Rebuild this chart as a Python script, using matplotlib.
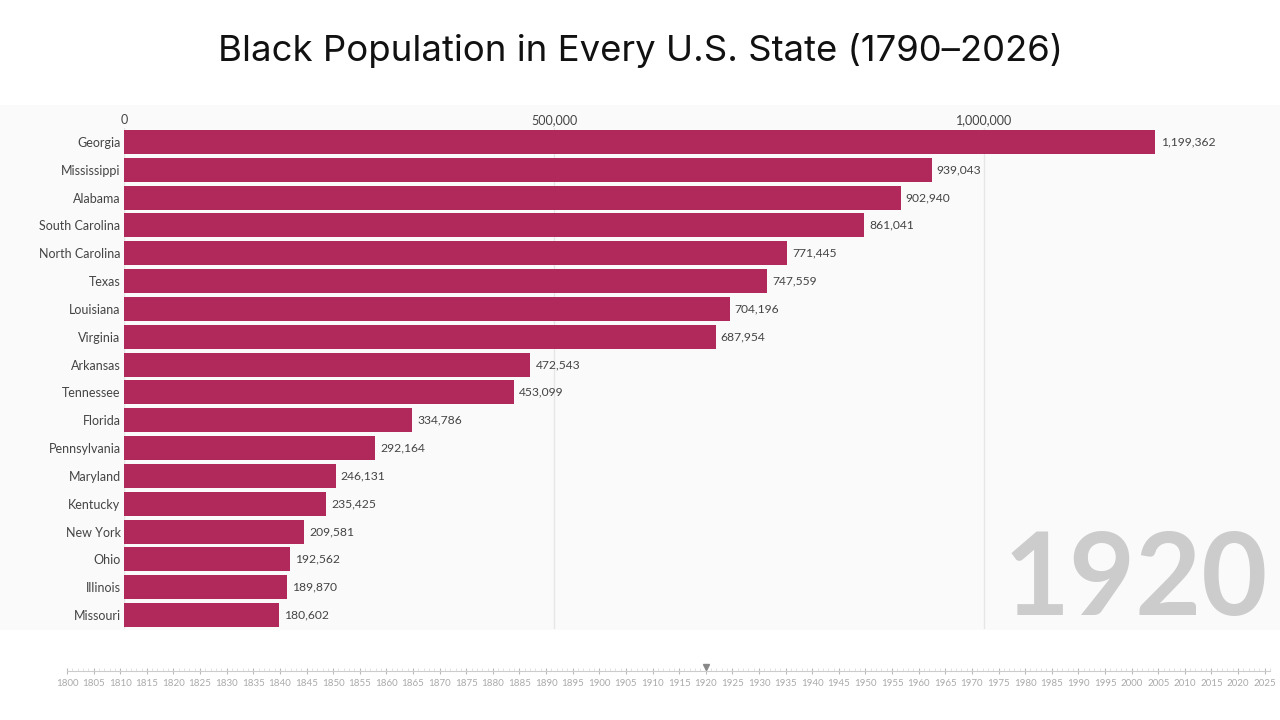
import matplotlib.pyplot as plt
from matplotlib.patches import Rectangle

# data (snapshot for 1920)
states = ['Georgia', 'Mississippi', 'Alabama', 'South Carolina', 'North Carolina',
          'Texas', 'Louisiana', 'Virginia', 'Arkansas', 'Tennessee', 'Florida',
          'Pennsylvania', 'Maryland', 'Kentucky', 'New York', 'Ohio', 'Illinois',
          'Missouri']
population = [1199362, 939043, 902940, 861041, 771445, 747559, 704196, 687954,
              472543, 453099, 334786, 292164, 246131, 235425, 209581, 192562,
              189870, 180602]
current_year = 1920
timeline_years = list(range(1800, 2026, 5))

bar_color = '#b0295a'
text_color = '#444444'

fig = plt.figure(figsize=(12.8, 7.2), dpi=100)
fig.patch.set_facecolor('white')

# light panel behind the race
fig.patches.append(Rectangle((0, 90 / 720), 1, 525 / 720, transform=fig.transFigure,
                             facecolor='#fafafa', edgecolor='none', zorder=-5))

fig.text(0.5, 1 - 50 / 720, 'Black Population in Every U.S. State (1790\u20132026)',
         ha='center', va='center', fontsize=26.3, family='Inter', color='#111111')

# main bar chart
ax = fig.add_axes([124 / 1280, 1 - 629 / 720, (1270 - 124) / 1280, 501 / 720])
ax.set_facecolor('none')
ax.set_zorder(2)
ypos = list(range(len(states)))
ax.barh(ypos, population, height=0.86, color=bar_color, zorder=2)
ax.set_xlim(0, (1270 - 124) / 430 * 500000)
ax.set_ylim(len(states) - 0.5, -0.5)
ax.set_yticks(ypos)
ax.set_yticklabels(states, family='Lato', fontsize=9, color=text_color)
ax.xaxis.tick_top()
ax.set_xticks([0, 500000, 1000000])
ax.set_xticklabels(['0', '500,000', '1,000,000'], family='Lato', fontsize=9,
                   color=text_color)
ax.tick_params(length=0, pad=2.5)
ax.tick_params(axis='x', pad=1.5)
for s in ax.spines.values():
    s.set_visible(False)
ax.grid(axis='x', color='#e6e6e6', linewidth=1, zorder=0)
ax.set_axisbelow(True)

for y, v in zip(ypos, population):
    ax.text(v + 6000, y, f'{v:,}', va='center', ha='left', family='Lato',
            fontsize=8.7, color=text_color)

# big year label
fig.text(1268 / 1280, 1 - 615 / 720, str(current_year), ha='right', va='baseline',
         fontsize=82, fontweight='bold', family='Lato', color='#cccccc', zorder=1)

# timeline
tl = fig.add_axes([67 / 1280, 1 - 671 / 720, (1270 - 67) / 1280, 0.001])
tl.set_facecolor('none')
tl.set_xlim(1800, 2026)
tl.set_ylim(0, 1)
tl.set_yticks([])
for k in ['top', 'left', 'right']:
    tl.spines[k].set_visible(False)
tl.spines['bottom'].set_color('#cccccc')
tl.set_xticks(timeline_years)
tl.set_xticklabels([str(y) for y in timeline_years], fontsize=7, family='Lato',
                   color='#aaaaaa')
tl.set_xticks(range(1800, 2027), minor=True)
tl.tick_params(axis='x', which='major', direction='inout', length=5, color='#bbbbbb', pad=3)
tl.tick_params(axis='x', which='minor', direction='in', length=2, color='#dddddd')
tl.plot([current_year], [5.5], marker='v', color='#888888', markersize=5,
        clip_on=False)

fig.savefig('out.png', dpi=100)
